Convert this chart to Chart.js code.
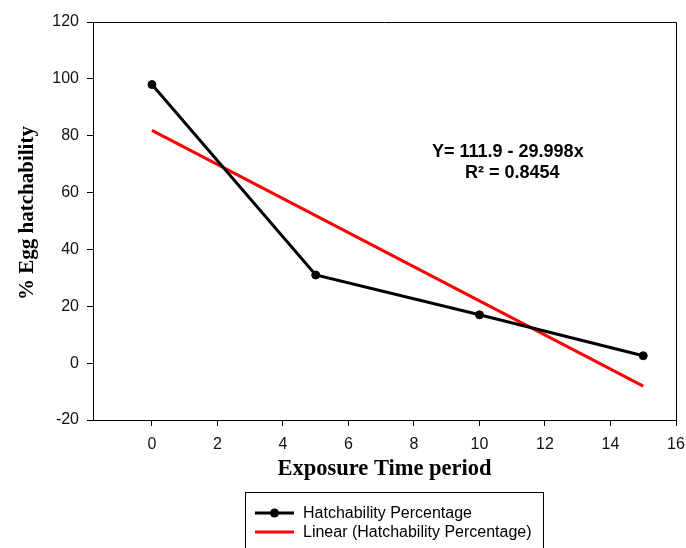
<!DOCTYPE html>
<html><head><meta charset="utf-8">
<script src="https://cdn.jsdelivr.net/npm/chart.js@4/dist/chart.umd.min.js"></script>
<style>html,body{margin:0;padding:0;background:#fff}#wrap{width:686px;height:548px;position:relative}</style>
</head><body><div id="wrap"><canvas id="c" width="686" height="548"></canvas></div>
<script>
const exposureTime = [0, 5, 10, 15];
const hatchability = [98, 31, 17, 2.6];
const linearTrend = [81.9, 51.9, 21.9, -8.09];
const xTickValues = [0, 2, 4, 6, 8, 10, 12, 14, 16];
const seriesLabels = ["Hatchability Percentage", "Linear (Hatchability Percentage)"];
const equationLines = ["Y= 111.9 - 29.998x", "R\u00B2 = 0.8454"];
const xAxisTitle = "Exposure Time period";
const yAxisTitle = "% Egg hatchability";

const sans = "'Liberation Sans', Arial, sans-serif";
const serif = "'Liberation Serif', 'Times New Roman', serif";

const extras = {
  id: 'extras',
  afterDraw(chart) {
    const ctx = chart.ctx, a = chart.chartArea;
    ctx.save();
    ctx.strokeStyle = '#000'; ctx.lineWidth = 1;
    ctx.beginPath();
    ctx.moveTo(a.left, a.top + 0.5); ctx.lineTo(a.right + 0.5, a.top + 0.5);
    ctx.lineTo(a.right + 0.5, a.bottom);
    ctx.stroke();
    ctx.fillStyle = '#000';
    ctx.font = "bold 21px " + serif;
    ctx.textAlign = 'center'; ctx.textBaseline = 'middle';
    ctx.translate(28, 213); ctx.rotate(-Math.PI / 2);
    ctx.fillText(yAxisTitle, 0, 0);
    ctx.setTransform(1, 0, 0, 1, 0, 0);
    ctx.font = "bold 18px " + sans;
    ctx.textAlign = 'left';
    ctx.fillText(equationLines[0], 432, 152);
    ctx.fillText(equationLines[1], 465, 173);
    ctx.strokeStyle = '#000'; ctx.lineWidth = 1;
    ctx.strokeRect(245.5, 492.5, 298, 70);
    const ds = chart.data.datasets;
    const rows = [513, 532];
    ds.forEach((d, i) => {
      const y = rows[i];
      ctx.strokeStyle = d.borderColor; ctx.lineWidth = 3;
      ctx.beginPath(); ctx.moveTo(255, y); ctx.lineTo(294, y); ctx.stroke();
      if (d.pointRadius > 0) {
        ctx.fillStyle = d.pointBackgroundColor;
        ctx.beginPath(); ctx.arc(274.5, y, 4.5, 0, Math.PI * 2); ctx.fill();
      }
      ctx.fillStyle = '#000';
      ctx.font = "16px " + sans;
      ctx.textBaseline = 'middle';
      ctx.fillText(d.label, 303, y + 1);
    });
    ctx.restore();
  }
};

new Chart(document.getElementById('c'), {
  type: 'line',
  data: {
    datasets: [
      {
        label: seriesLabels[0],
        data: exposureTime.map((x, i) => ({ x: x, y: hatchability[i] })),
        borderColor: '#000', backgroundColor: '#000',
        pointBackgroundColor: '#000', pointBorderColor: '#000',
        borderWidth: 3, pointRadius: 4, pointBorderWidth: 1, tension: 0, order: 0
      },
      {
        label: seriesLabels[1],
        data: exposureTime.map((x, i) => ({ x: x, y: linearTrend[i] })),
        borderColor: '#ff0000', backgroundColor: '#ff0000',
        borderWidth: 3, pointRadius: 0, tension: 0, order: 1
      }
    ]
  },
  options: {
    responsive: false, animation: false, devicePixelRatio: 1,
    layout: { padding: { top: 22, right: 10, left: 0, bottom: 65 } },
    plugins: { legend: { display: false }, tooltip: { enabled: false } },
    scales: {
      x: {
        type: 'linear', min: -1.8, max: 16,
        afterBuildTicks: s => { s.ticks = xTickValues.map(v => ({ value: v })); },
        afterFit: s => { s.height = 63; s.paddingLeft = 0; s.paddingRight = 0; },
        grid: { drawOnChartArea: false, drawTicks: true, tickLength: 6, color: '#000', lineWidth: 1 },
        border: { display: true, color: '#000', width: 1 },
        ticks: { font: { family: sans, size: 16 }, color: '#111', padding: 9, maxRotation: 0 },
        title: { display: true, text: xAxisTitle, color: '#000', padding: { top: 0, bottom: 0 },
                 font: { family: serif, size: 22.5, weight: 'bold' } }
      },
      y: {
        type: 'linear', min: -20, max: 120,
        ticks: { stepSize: 20, font: { family: sans, size: 16 }, color: '#111', padding: 8 },
        afterFit: s => { s.width = 93; s.paddingTop = 0; s.paddingBottom = 0; },
        grid: { drawOnChartArea: false, drawTicks: true, tickLength: 6, color: '#000', lineWidth: 1 },
        border: { display: true, color: '#000', width: 1 }
      }
    }
  },
  plugins: [extras]
});
</script>
</body></html>
